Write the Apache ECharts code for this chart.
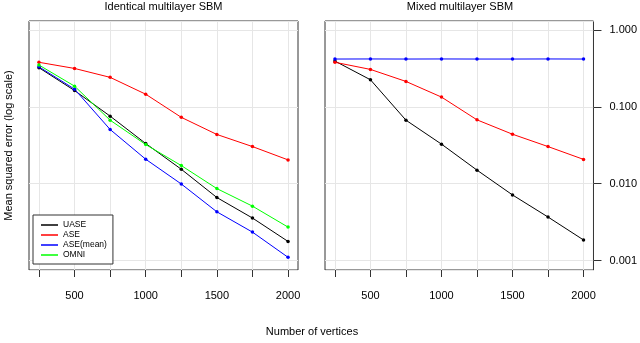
<!DOCTYPE html>
<html>
<head>
<meta charset="utf-8">
<script src="https://cdn.jsdelivr.net/npm/echarts@6/dist/echarts.min.js"></script>
<style>
  html, body { margin: 0; padding: 0; background: #fff; }
  #chart { width: 640px; height: 343px; }
</style>
</head>
<body>
<div id="chart"></div>
<script>
// number of vertices (x positions of the points)
const vertices = [250, 500, 750, 1000, 1250, 1500, 1750, 2000];
const xTickLabels = [500, 1000, 1500, 2000];

// left panel: identical multilayer SBM
const identicalUASE = [0.323, 0.163, 0.0757, 0.0333, 0.0154, 0.0066, 0.00357, 0.00177];
const identicalASE = [0.38, 0.316, 0.242, 0.146, 0.073, 0.0437, 0.0304, 0.0204];
const identicalASEmean = [0.332, 0.17, 0.0507, 0.0208, 0.0099, 0.0043, 0.00234, 0.0011];
const identicalOMNI = [0.35, 0.186, 0.067, 0.0323, 0.0172, 0.00863, 0.0051, 0.00272];

// right panel: mixed multilayer SBM
const mixedUASE = [0.394, 0.225, 0.067, 0.0327, 0.015, 0.00713, 0.00368, 0.00185];
const mixedASE = [0.38, 0.307, 0.214, 0.134, 0.0677, 0.044, 0.0304, 0.0207];
const mixedASEmean = [0.419, 0.42, 0.419, 0.42, 0.419, 0.419, 0.42, 0.419];

const colors = { UASE: "#000000", ASE: "#ff0000", "ASE(mean)": "#0000ff", OMNI: "#00ff00" };
const font = "Liberation Sans, Arial, sans-serif";
const frameColor = "#333333";
const gridColor = "#e6e6e6";

function pairs(values) {
    return vertices.map((x, i) => [x, values[i]]);
}

function make_series(name, values, gridIndex) {
    return {
        name: name,
        type: "line",
        xAxisIndex: gridIndex,
        yAxisIndex: gridIndex,
        data: pairs(values),
        symbol: "circle",
        symbolSize: 3.5,
        color: colors[name],
        lineStyle: { width: 1, color: colors[name] },
        itemStyle: { color: colors[name] },
        animation: false,
    };
}

function make_x_axis(gridIndex) {
    return {
        type: "value",
        gridIndex: gridIndex,
        min: 180,
        max: 2070,
        axisLine: { show: false },
        axisTick: { show: true, inside: false, length: 7, customValues: vertices, lineStyle: { color: frameColor } },
        axisLabel: {
            customValues: xTickLabels,
            margin: 20,
            fontSize: 11,
            fontFamily: font,
            color: "#000",
            formatter: (v) => String(v),
        },
        splitLine: { show: true, lineStyle: { color: gridColor, width: 1 } },
    };
}

function make_y_axis(gridIndex, withLabels) {
    return {
        type: "log",
        logBase: 10,
        gridIndex: gridIndex,
        position: withLabels ? "right" : "left",
        min: 0.000752,
        max: 1.31,
        axisLine: { show: false },
        axisTick: { show: withLabels, length: 8, lineStyle: { color: frameColor } },
        axisLabel: {
            show: withLabels,
            margin: 16,
            fontSize: 11,
            fontFamily: font,
            color: "#000",
            showMinLabel: false,
            showMaxLabel: false,
            formatter: (v) => v.toFixed(3),
        },
        splitLine: { show: true, lineStyle: { color: gridColor, width: 1 } },
    };
}

function render_chart() {
    const chart = echarts.init(document.getElementById("chart"));
    const legendNames = ["UASE", "ASE", "ASE(mean)", "OMNI"];
    const options = {
        backgroundColor: "#fff",
        animation: false,
        grid: [
            { left: 29, right: 342, top: 21, bottom: 73, show: true, borderColor: frameColor, borderWidth: 1, backgroundColor: "transparent" },
            { left: 325, right: 45, top: 21, bottom: 73, show: true, borderColor: frameColor, borderWidth: 1, backgroundColor: "transparent" },
        ],
        xAxis: [make_x_axis(0), make_x_axis(1)],
        yAxis: [make_y_axis(0, false), make_y_axis(1, true)],
        legend: {
            orient: "vertical",
            left: 33,
            top: 215,
            width: 76,
            padding: [5, 6, 4, 8],
            backgroundColor: "#fff",
            borderColor: frameColor,
            borderWidth: 1,
            itemGap: 0,
            itemWidth: 17,
            itemHeight: 1.5,
            icon: "rect",
            selectedMode: false,
            data: legendNames,
            textStyle: { fontSize: 8.5, fontFamily: font, color: "#000", lineHeight: 10, padding: [0, 0, 0, 0] },
        },
        graphic: [
            { type: "text", x: 163.5, y: 7, style: { text: "Identical multilayer SBM", fontSize: 11, fontFamily: font, fill: "#000", textAlign: "center", textVerticalAlign: "middle" } },
            { type: "text", x: 460, y: 7, style: { text: "Mixed multilayer SBM", fontSize: 11, fontFamily: font, fill: "#000", textAlign: "center", textVerticalAlign: "middle" } },
            { type: "text", x: 312, y: 332, style: { text: "Number of vertices", fontSize: 11, fontFamily: font, fill: "#000", textAlign: "center", textVerticalAlign: "middle" } },
            { type: "text", x: 9, y: 145.5, rotation: Math.PI / 2, style: { text: "Mean squared error (log scale)", fontSize: 11, fontFamily: font, fill: "#000", textAlign: "center", textVerticalAlign: "middle" } },
        ],
        series: [
            make_series("UASE", identicalUASE, 0),
            make_series("ASE", identicalASE, 0),
            make_series("ASE(mean)", identicalASEmean, 0),
            make_series("OMNI", identicalOMNI, 0),
            make_series("UASE", mixedUASE, 1),
            make_series("ASE", mixedASE, 1),
            make_series("ASE(mean)", mixedASEmean, 1),
        ],
    };
    chart.setOption(options);
}

window.addEventListener("load", render_chart);
</script>
</body>
</html>
